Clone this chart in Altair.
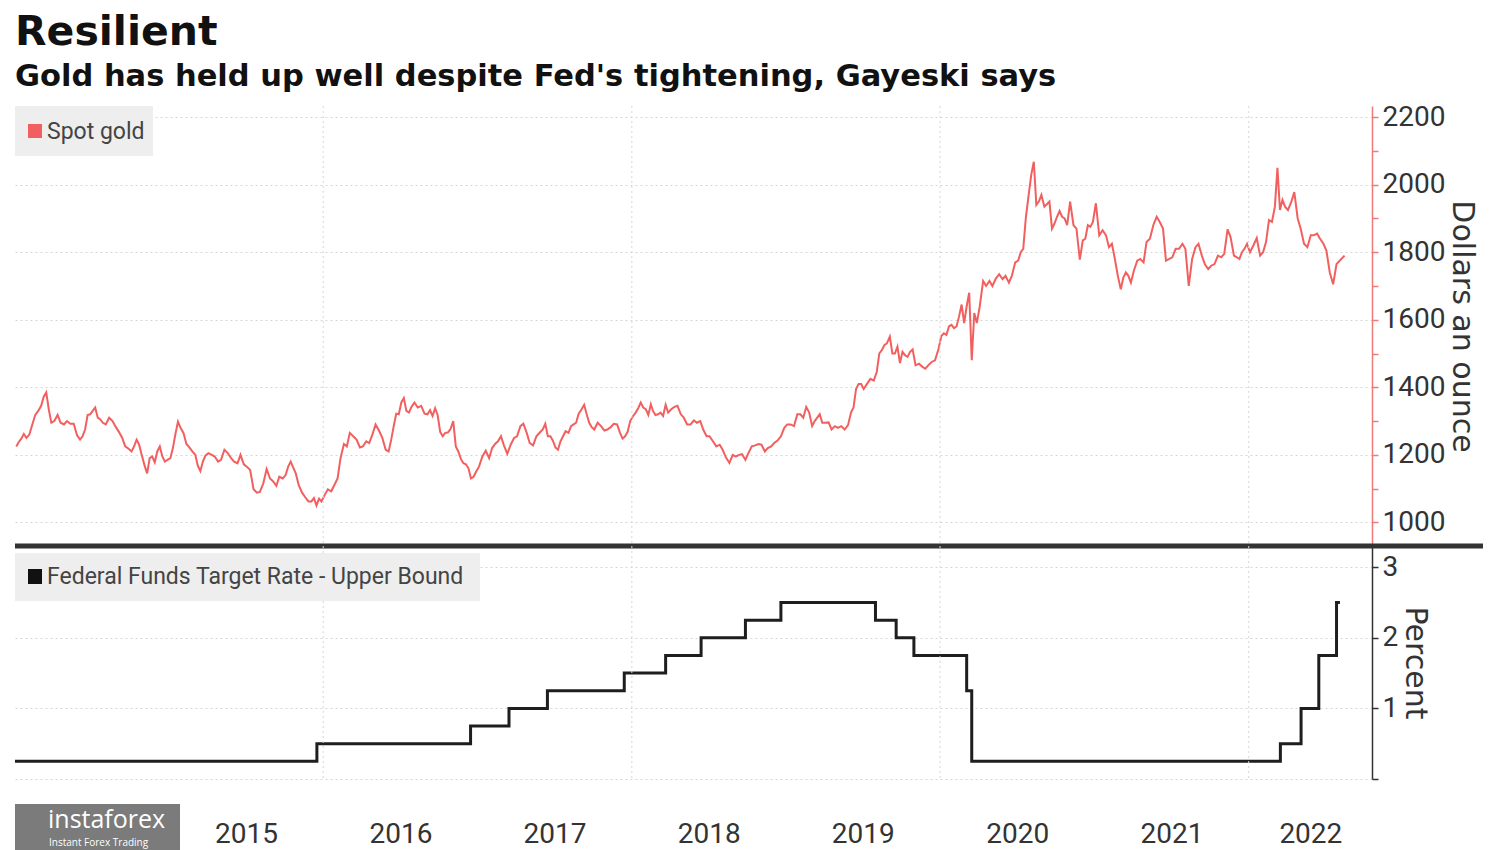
import calendar
import altair as alt
import pandas as pd

# ---------------- data ----------------
gold_2014 = [[1225, 1238, 1248, 1262, 1250], [1260, 1290, 1318, 1330], [1345, 1372, 1385, 1335, 1295],
             [1300, 1318, 1295, 1290], [1300, 1292, 1292, 1258], [1245, 1255, 1275, 1318, 1320],
             [1330, 1340, 1310, 1305, 1295], [1290, 1310, 1300, 1282], [1268, 1250, 1225, 1218],
             [1210, 1225, 1245, 1230, 1200], [1168, 1145, 1190, 1195, 1178], [1210, 1225, 1195, 1180, 1185]]
gold_2015 = [[1190, 1220, 1262, 1298, 1280], [1265, 1232, 1222, 1210], [1200, 1168, 1152, 1180, 1198],
             [1205, 1200, 1195, 1180], [1185, 1215, 1205, 1190], [1180, 1175, 1200, 1172],
             [1165, 1155, 1098, 1088], [1090, 1115, 1158, 1130], [1122, 1108, 1135, 1130],
             [1140, 1165, 1180, 1162, 1145], [1110, 1088, 1075, 1062], [1062, 1072, 1050, 1070, 1062]]
gold_2016 = [[1080, 1098, 1092, 1112], [1130, 1190, 1232, 1225], [1265, 1255, 1245, 1222],
             [1225, 1240, 1235, 1262], [1290, 1272, 1250, 1215], [1210, 1245, 1285, 1322, 1320],
             [1355, 1368, 1330, 1325, 1342], [1355, 1340, 1345, 1322], [1320, 1332, 1315, 1338, 1318],
             [1268, 1255, 1265, 1266, 1275], [1300, 1225, 1210, 1188, 1175], [1172, 1160, 1130, 1135, 1150]]
gold_2017 = [[1165, 1195, 1212, 1190], [1220, 1232, 1240, 1255], [1228, 1203, 1230, 1250],
             [1255, 1285, 1292, 1265], [1235, 1228, 1255, 1266], [1275, 1292, 1255, 1255, 1242],
             [1222, 1215, 1240, 1255, 1270], [1265, 1285, 1290, 1295, 1322], [1335, 1348, 1320, 1295, 1282],
             [1275, 1295, 1285, 1272], [1275, 1282, 1292, 1290], [1265, 1248, 1255, 1268, 1300]]
gold_2018 = [[1315, 1325, 1338, 1355, 1340], [1335, 1318, 1350, 1330, 1318], [1320, 1325, 1315, 1348, 1325],
             [1335, 1342, 1345, 1320], [1310, 1290, 1290, 1302], [1295, 1300, 1275, 1255],
             [1255, 1240, 1225, 1230], [1215, 1192, 1176, 1200], [1195, 1200, 1202, 1185],
             [1205, 1225, 1228, 1232], [1230, 1210, 1220, 1225], [1235, 1242, 1255, 1280]]
gold_2019 = [[1290, 1290, 1285, 1320], [1320, 1310, 1342, 1325], [1285, 1300, 1310, 1320, 1295],
             [1295, 1296, 1275, 1285], [1280, 1285, 1275, 1288], [1325, 1340, 1395, 1410, 1410],
             [1395, 1410, 1425, 1420], [1445, 1500, 1510, 1525, 1530], [1550, 1500, 1500, 1520, 1472],
             [1505, 1495, 1490, 1505, 1512], [1465, 1470, 1462, 1455], [1465, 1475, 1480, 1512]]
gold_2020 = [[1552, 1560, 1555, 1580, 1585], [1575, 1580, 1610, 1645, 1590], [1640, 1680, 1480, 1620, 1590],
             [1640, 1715, 1700, 1715], [1700, 1722, 1735, 1720], [1730, 1710, 1730, 1770],
             [1775, 1800, 1810, 1900, 1962], [2030, 2068, 1940, 1950, 1970], [1935, 1942, 1950, 1870, 1885],
             [1905, 1922, 1905, 1900, 1880], [1950, 1880, 1870, 1778], [1835, 1840, 1880, 1875, 1890]]
gold_2021 = [[1945, 1850, 1865, 1850], [1815, 1825, 1780, 1730], [1690, 1725, 1740, 1730, 1710],
             [1745, 1775, 1780, 1770], [1830, 1840, 1880, 1905], [1890, 1870, 1775, 1780],
             [1785, 1810, 1810, 1825], [1810, 1700, 1780, 1815], [1825, 1790, 1765, 1750],
             [1760, 1765, 1790, 1785], [1795, 1868, 1845, 1790], [1785, 1780, 1800, 1810, 1825]]
gold_2022 = [[1800, 1820, 1842, 1790], [1800, 1830, 1895, 1890], [1935, 2050, 1925, 1955, 1935],
             [1925, 1950, 1978, 1900], [1870, 1825, 1815, 1850], [1850, 1855, 1840, 1825],
             [1805, 1740, 1705, 1765], [1790]]
gold_years = [2014, 2015, 2016, 2017, 2018, 2019, 2020, 2021, 2022]

rate_dates = ["2014-01-01", "2015-12-17", "2016-12-15", "2017-03-16", "2017-06-15", "2017-12-14",
              "2018-03-22", "2018-06-14", "2018-09-27", "2018-12-20", "2019-08-01", "2019-09-19",
              "2019-10-31", "2020-03-04", "2020-03-16", "2022-03-17", "2022-05-05", "2022-06-16",
              "2022-07-28", "2022-08-05"]
rate_values = [0.25, 0.5, 0.75, 1.0, 1.25, 1.5, 1.75, 2.0, 2.25, 2.5, 2.25, 2.0,
               1.75, 1.25, 0.25, 0.5, 1.0, 1.75, 2.5, 2.5]

year_grid = ["2016-01-01", "2018-01-01", "2020-01-01", "2022-01-01"]
# label positions: middle of each year (the last one: middle of the visible part of 2022)
label_dates = [(2015, 7, 2), (2016, 7, 2), (2017, 7, 2), (2018, 7, 2), (2019, 7, 2),
               (2020, 7, 2), (2021, 7, 2), (2022, 5, 27)]

title_text = "Resilient"
subtitle_text = "Gold has held up well despite Fed's tightening, Gayeski says"
gold_label = "Spot gold"
rate_label = "Federal Funds Target Rate - Upper Bound"

# ---------------- tables ----------------
rows = []
for year, months in zip(gold_years, [gold_2014, gold_2015, gold_2016, gold_2017, gold_2018,
                                     gold_2019, gold_2020, gold_2021, gold_2022]):
    for mi, vals in enumerate(months):
        m = mi + 1
        dim = calendar.monthrange(year, m)[1]
        n = len(vals)
        for i, v in enumerate(vals):
            d = min(dim, int(1 + (i + 0.5) * dim / n))
            rows.append({"date": f"{year}-{m:02d}-{d:02d}", "gold": v})
gold_df = pd.DataFrame(rows)
rate_df = pd.DataFrame({"date": rate_dates, "rate": rate_values})
grid_df = pd.DataFrame({"date": year_grid})
one = pd.DataFrame({"k": [0]})

W = 1357
H1 = 440
H2 = 233
LBL_FONT = "Roboto"
TTL_FONT = "DejaVu Sans"
GOLD = "#f25f5f"

x_scale = alt.Scale(domain=[alt.DateTime(year=2014, month=1, date=1, utc=True),
                            alt.DateTime(year=2022, month=10, date=20, utc=True)])

# ---------------- top panel ----------------
gold_line = alt.Chart(gold_df).mark_line(color=GOLD, strokeWidth=2).encode(
    x=alt.X("date:T", scale=x_scale, axis=None),
    y=alt.Y("gold:Q", scale=alt.Scale(domain=[930, 2233], nice=False, zero=False),
            axis=alt.Axis(orient="right", values=list(range(1000, 2201, 100)), format="d",
                          labelExpr="datum.value % 200 == 0 ? datum.label : ''",
                          grid=True, gridColor="#d6d6d6", gridDash=[2, 3],
                          gridOpacity={"condition": {"test": "datum.value % 200 == 0", "value": 1}, "value": 0},
                          tickColor="#f07a7a", tickSize=6, tickWidth=1.5,
                          domainColor="#f07a7a", domainWidth=1.5,
                          labelFont=LBL_FONT, labelFontSize=28, labelColor="#333333", labelPadding=4,
                          labelOverlap=False,
                          title="Dollars an ounce", titleFont=TTL_FONT, titleFontSize=30,
                          titleFontWeight="normal", titleColor="#333333", titlePadding=2)))

top_grid = alt.Chart(grid_df).mark_rule(color="#d6d6d6", strokeDash=[2, 3], strokeWidth=1).encode(
    x=alt.X("date:T", scale=x_scale, axis=None))

top_legend_box = alt.Chart(one).mark_rect(color="#eeeeee").encode(
    x=alt.value(0), x2=alt.value(138), y=alt.value(0), y2=alt.value(50))
top_legend_sq = alt.Chart(one).mark_rect(color=GOLD).encode(
    x=alt.value(13), x2=alt.value(27), y=alt.value(18), y2=alt.value(32))
top_legend_txt = alt.Chart(one).mark_text(align="left", baseline="middle", font=LBL_FONT,
                                          fontSize=23, color="#444444").encode(
    x=alt.value(32), y=alt.value(26), text=alt.value(gold_label))
separator = alt.Chart(one).mark_rule(color="#333333", strokeWidth=5).encode(
    x=alt.value(0), x2=alt.value(1468), y=alt.value(H1))

top = alt.layer(gold_line, top_grid, top_legend_box, top_legend_sq, top_legend_txt, separator).properties(
    width=W, height=H1)

# ---------------- bottom panel ----------------
rate_line = alt.Chart(rate_df).mark_line(color="#1e1e1e", strokeWidth=3, interpolate="step-after").encode(
    x=alt.X("date:T", scale=x_scale,
            axis=alt.Axis(values=[alt.DateTime(year=y, month=m, date=d, utc=True) for (y, m, d) in label_dates],
                          labelExpr="utcFormat(datum.value, '%Y')", ticks=False, domain=False, grid=False,
                          labelFont=LBL_FONT, labelFontSize=28, labelColor="#333333", labelPadding=41,
                          labelOverlap=False, title=None)),
    y=alt.Y("rate:Q", scale=alt.Scale(domain=[0, 3.3], nice=False),
            axis=alt.Axis(orient="right", values=[0, 0.5, 1, 1.5, 2, 2.5, 3], format="d",
                          labelExpr="(datum.value == 1 || datum.value == 2 || datum.value == 3) ? datum.label : ''",
                          grid=True, gridColor="#d6d6d6", gridDash=[2, 3],
                          gridOpacity={"condition": {"test": "datum.value % 1 == 0", "value": 1}, "value": 0},
                          tickColor="#333333", tickSize=6, tickWidth=1.5,
                          domainColor="#333333", domainWidth=1.5,
                          labelFont=LBL_FONT, labelFontSize=28, labelColor="#333333", labelPadding=4,
                          labelOverlap=False,
                          title="Percent", titleFont=TTL_FONT, titleFontSize=30,
                          titleFontWeight="normal", titleColor="#333333", titlePadding=2)))

bot_grid = alt.Chart(grid_df).mark_rule(color="#d6d6d6", strokeDash=[2, 3], strokeWidth=1).encode(
    x=alt.X("date:T", scale=x_scale, title=None))

bot_legend_box = alt.Chart(one).mark_rect(color="#eeeeee").encode(
    x=alt.value(0), x2=alt.value(465), y=alt.value(7), y2=alt.value(55))
bot_legend_sq = alt.Chart(one).mark_rect(color="#111111").encode(
    x=alt.value(13), x2=alt.value(27), y=alt.value(23), y2=alt.value(38))
bot_legend_txt = alt.Chart(one).mark_text(align="left", baseline="middle", font=LBL_FONT,
                                          fontSize=23, color="#444444").encode(
    x=alt.value(32), y=alt.value(31), text=alt.value(rate_label))

logo_box = alt.Chart(one).mark_rect(color="#7b7b7b").encode(
    x=alt.value(0), x2=alt.value(165), y=alt.value(258), y2=alt.value(305))
logo_txt = alt.Chart(one).mark_text(align="left", baseline="middle", font="Open Sans",
                                    fontSize=25, color="#ffffff").encode(
    x=alt.value(33), y=alt.value(274), text=alt.value("instaforex"))
logo_sub = alt.Chart(one).mark_text(align="left", baseline="middle", font="Open Sans",
                                    fontSize=10, color="#ffffff").encode(
    x=alt.value(34), y=alt.value(297), text=alt.value("Instant Forex Trading"))

bottom = alt.layer(rate_line, bot_grid, bot_legend_box, bot_legend_sq, bot_legend_txt,
                   logo_box, logo_txt, logo_sub).properties(width=W, height=H2)

chart = alt.vconcat(top, bottom, spacing=0, bounds="flush").properties(
    title=alt.TitleParams(text=title_text, subtitle=subtitle_text, anchor="start", dx=6,
                          font="DejaVu Sans", fontSize=41, fontWeight="bold", color="#111111",
                          subtitleFont="DejaVu Sans", subtitleFontSize=30.5, subtitleFontWeight="bold",
                          subtitleColor="#111111", subtitlePadding=8, offset=10),
    padding={"left": 1, "top": 3, "right": 0, "bottom": 0},
    background="#ffffff",
).configure_view(stroke=None)

chart.save("out.html", embed_options={"renderer": "svg", "actions": False})
